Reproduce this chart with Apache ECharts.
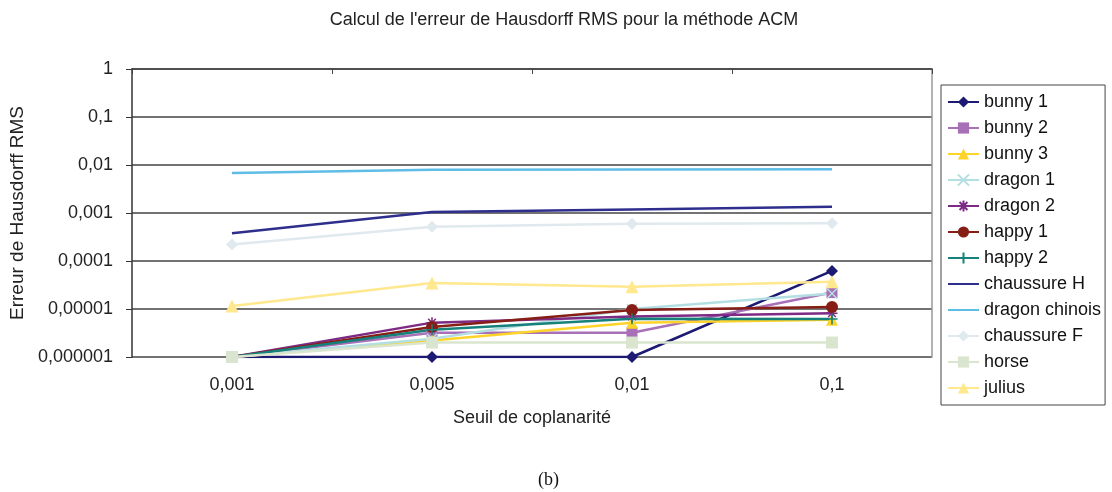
<!DOCTYPE html>
<html>
<head>
<meta charset="utf-8">
<script src="https://cdn.jsdelivr.net/npm/echarts@6/dist/echarts.min.js"></script>
<style>
  html, body { margin: 0; padding: 0; background: #fff; }
  #chart { width: 1112px; height: 492px; }
</style>
</head>
<body>
<div id="chart"></div>
<script>
const categories = ['0,001', '0,005', '0,01', '0,1']
const yTickLabels = ['0,000001', '0,00001', '0,0001', '0,001', '0,01', '0,1', '1']

const bunny1 = [1e-6, 1e-6, 1e-6, 6.2e-5]
const bunny2 = [1e-6, 3.2e-6, 3.2e-6, 2.2e-5]
const bunny3 = [1e-6, 2.2e-6, 5.2e-6, 6e-6]
const dragon1 = [1e-6, 2.4e-6, 1e-5, 2.1e-5]
const dragon2 = [1e-6, 5.2e-6, 7e-6, 8.2e-6]
const happy1 = [1e-6, 4.2e-6, 9.5e-6, 1.1e-5]
const happy2 = [1e-6, 3.7e-6, 6.3e-6, 6.2e-6]
const chaussureH = [3.8e-4, 1.05e-3, 1.18e-3, 1.35e-3]
const dragonChinois = [6.8e-3, 8e-3, 8.1e-3, 8.2e-3]
const chaussureF = [2.2e-4, 5.2e-4, 6e-4, 6.1e-4]
const horse = [1e-6, 2e-6, 2e-6, 2e-6]
const julius = [1.15e-5, 3.5e-5, 2.9e-5, 3.7e-5]

const xMark = 'path://M0,0L10,10M10,0L0,10'
const plusMark = 'path://M5,0L5,10M0,5L10,5'
const starMark = 'path://M5,0L5,10M0,5L10,5M1.5,1.5L8.5,8.5M8.5,1.5L1.5,8.5'

const font = 'Liberation Sans, Arial, sans-serif'

function mk(name, data, color, symbol, size, stroke) {
  const s = {
    name: name,
    type: 'line',
    data: data,
    symbol: symbol,
    symbolSize: size,
    showSymbol: symbol !== 'none',
    lineStyle: { color: color, width: 2.5 },
    itemStyle: { color: color },
    emphasis: { disabled: true },
    animation: false,
    z: 3
  }
  if (stroke) {
    s.itemStyle = { color: color, borderColor: color, borderWidth: 1.5 }
  }
  return s
}

const series = [
  mk('bunny 1', bunny1, '#1c1a72', 'diamond', 12),
  mk('bunny 2', bunny2, '#a870b6', 'rect', 11),
  mk('bunny 3', bunny3, '#ffd42a', 'triangle', 12),
  mk('dragon 1', dragon1, '#b4dfe2', xMark, 10, true),
  mk('dragon 2', dragon2, '#7e2a84', starMark, 11, true),
  mk('happy 1', happy1, '#861e16', 'circle', 12),
  mk('happy 2', happy2, '#16807a', plusMark, 11, true),
  mk('chaussure H', chaussureH, '#2e2f8c', 'none', 0),
  mk('dragon chinois', dragonChinois, '#5ebde6', 'none', 0),
  mk('chaussure F', chaussureF, '#e0e9ee', 'diamond', 12),
  mk('horse', horse, '#dae5cf', 'rect', 12),
  mk('julius', julius, '#ffe88e', 'triangle', 13)
]

// plain line icon for the series without markers
const legendData = series.map(function (s) {
  if (s.symbol === 'none') {
    return { name: s.name, itemStyle: { color: 'rgba(0,0,0,0)', borderWidth: 0 } }
  }
  return { name: s.name }
})

const chart = echarts.init(document.getElementById('chart'))
chart.setOption({
  animation: false,
  title: {
    text: "Calcul de l'erreur de Hausdorff RMS pour la méthode ACM",
    left: 559,
    textAlign: 'center',
    top: 6,
    textStyle: { fontFamily: font, fontSize: 18, fontWeight: 'normal', color: '#222' }
  },
  grid: { left: 131, right: 180, top: 69, bottom: 135 },
  legend: {
    orient: 'vertical',
    left: 941,
    top: 85,
    padding: [8, 4, 8, 6],
    borderColor: '#444',
    borderWidth: 1,
    itemWidth: 31,
    itemHeight: 14,
    itemGap: 8,
    data: legendData,
    textStyle: { fontFamily: font, fontSize: 18, color: '#111' }
  },
  xAxis: [
    {
      type: 'category',
      data: categories,
      position: 'bottom',
      boundaryGap: true,
      axisLine: { show: false },
      axisTick: { show: false },
      axisLabel: { fontFamily: font, fontSize: 18, color: '#222', margin: 19 },
      name: 'Seuil de coplanarité',
      nameLocation: 'middle',
      nameGap: 52,
      nameTextStyle: { fontFamily: font, fontSize: 18, color: '#222' }
    },
    {
      type: 'category',
      data: categories,
      position: 'top',
      boundaryGap: true,
      axisLine: { show: true, lineStyle: { color: '#444', width: 1.5 } },
      axisTick: { show: true, inside: true, length: 5, lineStyle: { color: '#444' } },
      axisLabel: { show: false }
    }
  ],
  yAxis: [
    {
      type: 'log',
      logBase: 10,
      min: 1e-6,
      max: 1,
      axisLine: { show: true, lineStyle: { color: '#333', width: 1.5 } },
      axisTick: { show: true, length: 6, lineStyle: { color: '#333' } },
      axisLabel: {
        fontFamily: font,
        fontSize: 18,
        color: '#222',
        margin: 19,
        formatter: function (v) {
          return yTickLabels[Math.round(Math.log10(v)) + 6]
        }
      },
      splitLine: { show: true, lineStyle: { color: '#444', width: 1.5 } },
      name: 'Erreur de Hausdorff RMS',
      nameLocation: 'middle',
      nameGap: 104,
      nameTextStyle: { fontFamily: font, fontSize: 19, color: '#222' }
    },
    {
      type: 'log',
      logBase: 10,
      min: 1e-6,
      max: 1,
      position: 'right',
      axisLine: { show: true, lineStyle: { color: '#999', width: 1.5 } },
      axisTick: { show: false },
      axisLabel: { show: false },
      splitLine: { show: false }
    }
  ],
  series: series,
  graphic: [
    {
      type: 'text',
      left: 538,
      top: 471,
      style: { text: '(b)', font: '18px "Liberation Serif", "Times New Roman", serif', fill: '#111' }
    }
  ]
})
</script>
</body>
</html>
